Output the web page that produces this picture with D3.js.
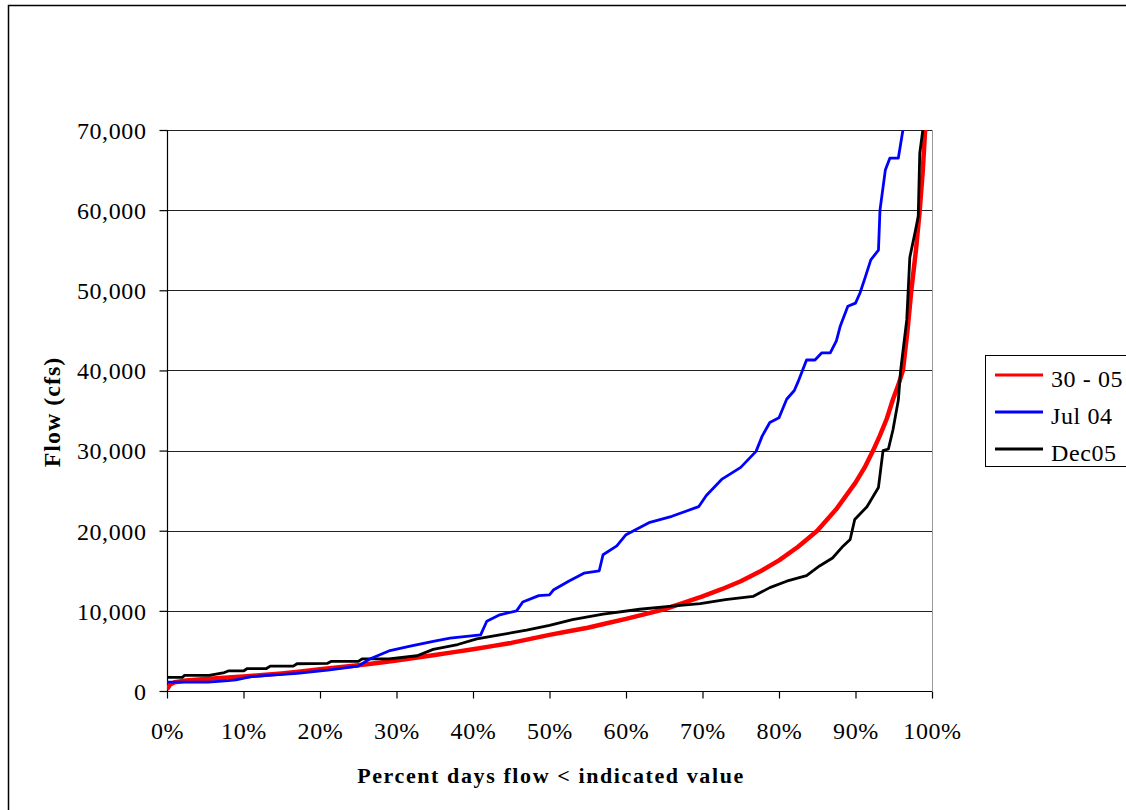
<!DOCTYPE html>
<html><head><meta charset="utf-8">
<script src="https://cdn.jsdelivr.net/npm/d3@7"></script>
<style>body{margin:0;background:#fff}svg{display:block}</style>
</head><body>
<script>
// percent of days, flow (cfs)
const red3005 = [[0,200],[0.4,800],[1,1100],[2.5,1300],[5,1500],[7.5,1650],[10,1800],[12.5,2000],[15,2200],[17.5,2450],[20,2700],[22.5,2950],[25,3200],[27.5,3500],[30,3800],[32.5,4150],[35,4500],[37.5,4850],[40,5200],[42.5,5600],[45,6000],[47.5,6500],[50,7000],[52.5,7450],[55,7900],[57.5,8450],[60,9000],[62.5,9600],[65,10200],[67.5,11000],[70,11800],[72.5,12700],[75,13700],[77.5,14900],[80,16300],[82.5,18000],[85,20000],[87.5,22700],[90,26000],[91.2,27900],[92.3,30000],[93.2,31900],[94.1,34000],[94.9,36400],[95.6,38200],[96.2,40000],[96.8,45000],[97.3,50000],[97.9,55000],[98.4,60000],[98.8,65000],[99.1,70000],[99.5,80000]];
const jul04 = [[0,1100],[5.4,1100],[8,1300],[9,1400],[11,1800],[17,2200],[21,2600],[25,3100],[26.5,4000],[29,5000],[31.8,5600],[34.8,6200],[37,6600],[41,7000],[41.8,8700],[43.5,9500],[45.7,10000],[46.5,11100],[48.6,11900],[50,12000],[50.5,12600],[52.5,13700],[54.5,14700],[56.5,15000],[57,17000],[58.8,18100],[60,19500],[63,21000],[66,21800],[69.5,23000],[70.5,24400],[72.5,26400],[75,27900],[77,29900],[77.8,31800],[78.8,33500],[80,34100],[81,36400],[82,37500],[82.5,38600],[83.6,41300],[84.7,41300],[85.6,42200],[86.7,42200],[87.5,43700],[88,45500],[89,48000],[90,48400],[90.6,49700],[91.3,51700],[92,53800],[93,55000],[93.2,60000],[93.9,65000],[94.5,66500],[95.6,66500],[96.2,70000],[96.5,72000]];
const dec05 = [[0,1700],[2,1700],[2.3,1950],[5.5,1950],[7.5,2300],[8,2500],[10,2500],[10.5,2800],[13,2800],[13.5,3100],[16.5,3100],[17,3400],[21,3450],[21.5,3700],[25,3700],[25.5,4000],[29,4000],[32.7,4400],[34.8,5200],[38,5800],[40.5,6500],[43.5,7000],[47,7600],[50,8200],[53,8900],[57,9600],[61.8,10200],[66,10600],[69.7,10900],[73,11400],[76.6,11800],[78.8,12900],[81,13700],[83.6,14400],[85.3,15600],[87,16600],[88.4,18100],[89.3,18900],[89.9,21400],[91.5,23000],[93,25400],[93.6,30000],[94.3,30200],[94.9,32600],[95.6,36300],[95.9,40000],[96.7,46300],[97.1,54100],[97.8,57300],[98.2,59200],[98.4,67100],[98.8,70000],[99,75000]];
const seriesNames = ["30 - 05","Jul 04","Dec05"];
const seriesColors = ["#ff0000","#0000ff","#000000"];
const yTicks = [0,10000,20000,30000,40000,50000,60000,70000];
const xTicks = [0,10,20,30,40,50,60,70,80,90,100];

const W=1126,H=810;
const L=167,R=932,T=130,B=691;
const svg=d3.select("body").append("svg").attr("width",W).attr("height",H);
const font="'Liberation Serif','Times New Roman',serif";
svg.append("rect").attr("x",8.5).attr("y",5.5).attr("width",W+10).attr("height",H+10).attr("fill","none").attr("stroke","#000").attr("stroke-width",1.5);

const x=d3.scaleLinear().domain([0,100]).range([L,R]);
const y=d3.scaleLinear().domain([0,70000]).range([B,T]);

// grid
svg.append("g").selectAll("line").data(yTicks.slice(1)).join("line")
 .attr("x1",L).attr("x2",R).attr("y1",d=>Math.round(y(d))+0.5).attr("y2",d=>Math.round(y(d))+0.5)
 .attr("stroke","#222").attr("stroke-width",1);
svg.append("line").attr("x1",R+0.5).attr("x2",R+0.5).attr("y1",T).attr("y2",B).attr("stroke","#999");

const fmt=d3.format(",");
const ya=svg.append("g").attr("transform",`translate(${L+0.5},0)`)
 .call(d3.axisLeft(y).tickValues(yTicks).tickFormat(fmt).tickSize(8).tickPadding(13));
const xa=svg.append("g").attr("transform",`translate(0,${B+0.5})`)
 .call(d3.axisBottom(x).tickValues(xTicks).tickFormat(d=>d+"%").tickSize(7).tickPadding(24));
[ya,xa].forEach(g=>{g.selectAll("path,line").attr("stroke","#000").attr("stroke-width",1.2);
 g.selectAll("text").attr("font-family",font).attr("font-size",24).attr("letter-spacing",0.6).attr("fill","#000");});
ya.selectAll("text").attr("dy","0.35em");
xa.selectAll("text").attr("dy","0.7em");
ya.select(".domain").attr("d",`M0,${T}V${B}`);
xa.select(".domain").attr("d",`M${L},0H${R}`);

svg.append("defs").append("clipPath").attr("id","c").append("rect").attr("x",L).attr("y",T).attr("width",R-L+1).attr("height",B-T+2);
const line=d3.line().x(d=>x(d[0])).y(d=>y(d[1]));
const data=[red3005,jul04,dec05];
const widths=[4.5,2.8,2.8];
const g=svg.append("g").attr("clip-path","url(#c)");
[0,2,1].forEach(i=>{
 g.append("path").datum(data[i]).attr("d",line).attr("fill","none").attr("stroke",seriesColors[i]).attr("stroke-width",widths[i]).attr("stroke-linejoin","round");
});

svg.append("text").attr("transform",`translate(60,412) rotate(-90)`).attr("text-anchor","middle")
 .attr("font-family",font).attr("font-size",24).attr("letter-spacing",1).attr("font-weight","bold").text("Flow (cfs)");
svg.append("text").attr("x",551).attr("y",783).attr("text-anchor","middle")
 .attr("font-family",font).attr("font-size",22).attr("letter-spacing",1.6).attr("font-weight","bold").text("Percent days flow < indicated value");

// legend
const lg=svg.append("g");
lg.append("rect").attr("x",985.5).attr("y",355.5).attr("width",160).attr("height",111).attr("fill","#fff").attr("stroke","#000").attr("stroke-width",1);
seriesNames.forEach((n,i)=>{
 const yy=375+i*37;
 lg.append("line").attr("x1",995).attr("x2",1043).attr("y1",yy).attr("y2",yy).attr("stroke",seriesColors[i]).attr("stroke-width",2.8);
 lg.append("text").attr("x",1051).attr("y",yy+12).attr("font-family",font).attr("font-size",24).attr("letter-spacing",0.6).text(n);
});
</script>
</body></html>
